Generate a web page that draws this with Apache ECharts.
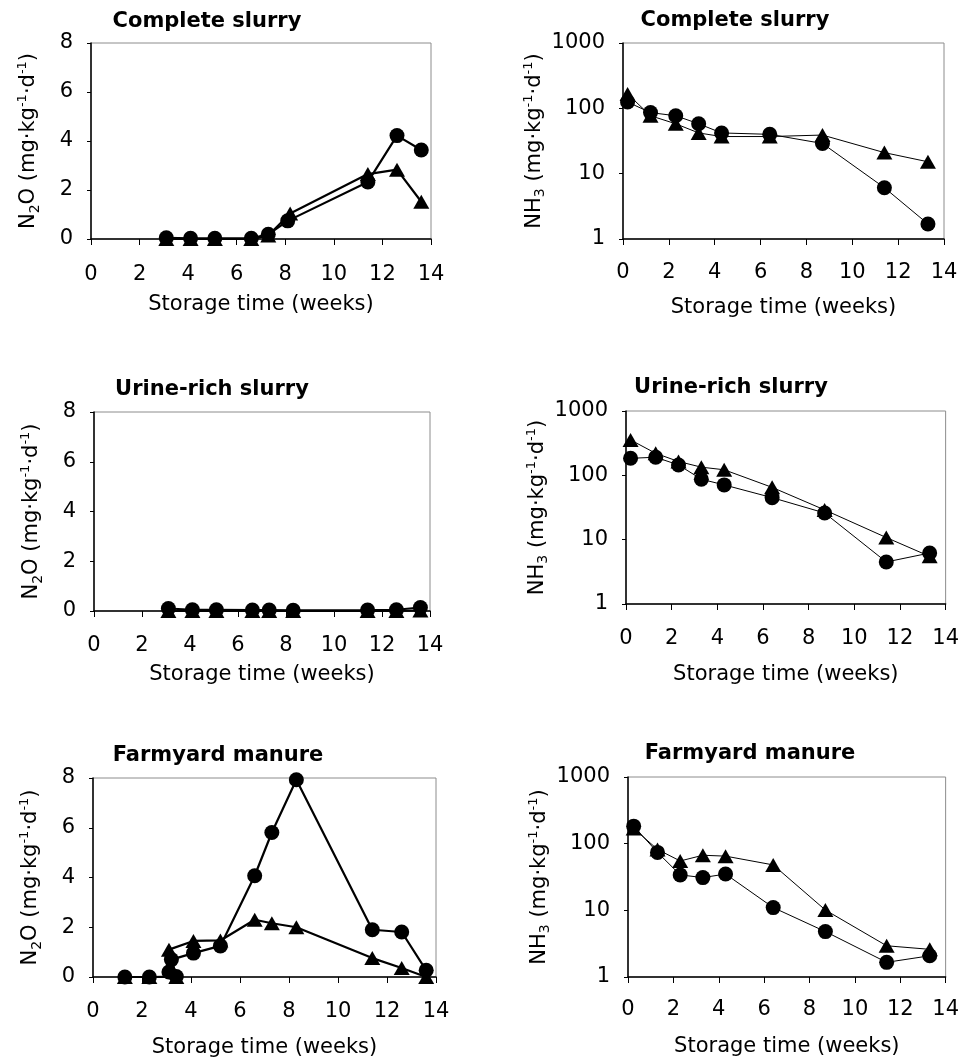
<!DOCTYPE html>
<html><head><meta charset="utf-8">
<script src="https://cdn.jsdelivr.net/npm/echarts@6/dist/echarts.min.js"></script>
<style>html,body{margin:0;padding:0;background:#fff}#c{width:962px;height:1061px}</style>
</head><body><div id="c"></div>
<script>
// ---------- DATA ----------
const panelTitles = ['Complete slurry', 'Complete slurry', 'Urine-rich slurry', 'Urine-rich slurry', 'Farmyard manure', 'Farmyard manure'];
const xAxisTitle = 'Storage time (weeks)';
const n2oAxisName = 'N{sub|2}O (mg·kg{sup|-1}·d{sup|-1})';
const nh3AxisName = 'NH{sub|3} (mg·kg{sup|-1}·d{sup|-1})';

// Complete slurry – N2O
const csN2OCircleWeeks = [3.1, 4.1, 5.1, 6.6, 7.3, 8.1, 11.4, 12.6, 13.6];
const csN2OCircle      = [0.05, 0.03, 0.03, 0.03, 0.19, 0.74, 2.33, 4.22, 3.63];
const csN2OTriWeeks    = [3.1, 4.1, 5.1, 6.6, 7.3, 8.2, 11.4, 12.6, 13.6];
const csN2OTri         = [0, 0, 0, 0, 0.14, 1.04, 2.65, 2.83, 1.52];

// Complete slurry – NH3
const csNH3Weeks  = [0.2, 1.2, 2.3, 3.3, 4.3, 6.4, 8.7, 11.4, 13.3];
const csNH3Circle = [125, 86, 77, 58, 42, 40, 29, 6.1, 1.7];
const csNH3Tri    = [166, 77, 58, 42, 37, 37, 39, 21, 15.2];

// Urine-rich slurry – N2O
const urN2OWeeks  = [3.1, 4.1, 5.1, 6.6, 7.3, 8.3, 11.4, 12.6, 13.6];
const urN2OCircle = [0.1, 0.05, 0.05, 0.04, 0.04, 0.03, 0.04, 0.05, 0.14];
const urN2OTri    = [0, 0, 0, 0, 0, 0, 0, 0, 0.02];

// Urine-rich slurry – NH3
const urNH3Weeks  = [0.2, 1.3, 2.3, 3.3, 4.3, 6.4, 8.7, 11.4, 13.3];
const urNH3Circle = [184, 191, 145, 87, 71, 45, 26, 4.5, 6.2];
const urNH3Tri    = [355, 220, 164, 134, 122, 65, 29, 10.8, 5.5];

// Farmyard manure – N2O
const fmN2OCircleWeeks = [1.3, 2.3, 3.4, 3.1, 3.2, 4.1, 5.2, 6.6, 7.3, 8.3, 11.4, 12.6, 13.6];
const fmN2OCircle      = [0, 0, 0.02, 0.2, 0.7, 0.96, 1.25, 4.07, 5.81, 7.93, 1.9, 1.81, 0.27];
const fmN2OTriWeeks    = [1.3, 2.3, 3.4, 3.1, 4.1, 5.2, 6.6, 7.3, 8.3, 11.4, 12.6, 13.6];
const fmN2OTri         = [0, 0, 0, 1.1, 1.45, 1.47, 2.3, 2.16, 2.0, 0.76, 0.36, 0];

// Farmyard manure – NH3
const fmNH3Weeks  = [0.25, 1.3, 2.3, 3.3, 4.3, 6.4, 8.7, 11.4, 13.3];
const fmNH3Circle = [183, 74, 34, 31, 35, 11, 4.8, 1.66, 2.08];
const fmNH3Tri    = [169, 82, 55, 67, 65, 48, 10.1, 2.94, 2.6];

// ---------- LAYOUT ----------
const FONT = 'DejaVu Sans';
const layouts = [
  {left: 91,  top: 43,  width: 340, height: 196, tx: 207, ty: 11,  xl: 25, xn: 55, log: false},
  {left: 623, top: 43,  width: 321, height: 196, tx: 735, ty: 10,  xl: 23, xn: 58, log: true},
  {left: 94,  top: 412, width: 336, height: 199, tx: 212, ty: 379, xl: 24, xn: 53, log: false},
  {left: 626, top: 411, width: 320, height: 193, tx: 731, ty: 377, xl: 24, xn: 60, log: true},
  {left: 93,  top: 778, width: 343, height: 199, tx: 218, ty: 745, xl: 24, xn: 60, log: false},
  {left: 628, top: 777, width: 319, height: 200, tx: 750, ty: 743, xl: 22, xn: 59, log: true}
];

const seriesSets = [
  [[csN2OTriWeeks, csN2OTri], [csN2OCircleWeeks, csN2OCircle]],
  [[csNH3Weeks, csNH3Tri], [csNH3Weeks, csNH3Circle]],
  [[urN2OWeeks, urN2OTri], [urN2OWeeks, urN2OCircle]],
  [[urNH3Weeks, urNH3Tri], [urNH3Weeks, urNH3Circle]],
  [[fmN2OTriWeeks, fmN2OTri], [fmN2OCircleWeeks, fmN2OCircle]],
  [[fmNH3Weeks, fmNH3Tri], [fmNH3Weeks, fmNH3Circle]]
];

const titles = [], grids = [], xAxes = [], yAxes = [], series = [];
layouts.forEach((L, i) => {
  titles.push({
    text: panelTitles[i], left: L.tx, top: L.ty, textAlign: 'center', padding: 0,
    textStyle: {fontFamily: FONT, fontSize: 21, fontWeight: 'bold', color: '#000', lineHeight: 21}
  });
  grids.push({
    left: L.left, top: L.top, width: L.width, height: L.height, containLabel: false,
    show: true, borderColor: '#8c8c8c', borderWidth: 1, backgroundColor: 'transparent'
  });
  xAxes.push({
    gridIndex: i, type: 'value', min: 0, max: 14, interval: 2,
    name: xAxisTitle, nameLocation: 'middle', nameGap: L.xn,
    nameTextStyle: {fontFamily: FONT, fontSize: 21, color: '#000'},
    axisLine: {show: true, onZero: false, lineStyle: {color: '#000', width: 1.5}},
    axisTick: {show: true, length: 6, lineStyle: {color: '#000', width: 1}},
    axisLabel: {fontFamily: FONT, fontSize: 21, color: '#000', margin: L.xl},
    splitLine: {show: false}
  });
  const y = {
    gridIndex: i,
    name: L.log ? nh3AxisName : n2oAxisName,
    nameLocation: 'middle', nameRotate: 90, nameGap: L.log ? 70 : 49,
    nameTextStyle: {
      fontFamily: FONT, fontSize: 21, color: '#000', lineHeight: 26,
      rich: {
        sub: {fontFamily: FONT, fontSize: 14, lineHeight: 14, verticalAlign: 'bottom', color: '#000'},
        sup: {fontFamily: FONT, fontSize: 13, lineHeight: 13, verticalAlign: 'top', color: '#000'}
      }
    },
    axisLine: {show: true, onZero: false, lineStyle: {color: '#000', width: 1.5}},
    axisTick: {show: true, length: 4, lineStyle: {color: '#000', width: 1}},
    axisLabel: {fontFamily: FONT, fontSize: 21, color: '#000', margin: 18,
                formatter: v => String(Math.round(v))},
    splitLine: {show: false}, minorTick: {show: false}
  };
  if (L.log) { y.type = 'log'; y.logBase = 10; y.min = 1; y.max = 1000; }
  else { y.type = 'value'; y.min = 0; y.max = 8; y.interval = 2; }
  yAxes.push(y);

  const lw = L.log ? 1 : 2.2;
  seriesSets[i].forEach((pair, k) => {
    const shape = k === 0 ? 'triangle' : 'circle';
    series.push({
      type: 'line', xAxisIndex: i, yAxisIndex: i,
      data: pair[0].map((w, j) => [w, pair[1][j]]),
      symbol: shape, symbolSize: shape === 'circle' ? 15 : [16, 14],
      showSymbol: true, clip: false, silent: true,
      itemStyle: {color: '#000', borderWidth: 0},
      lineStyle: {color: '#000', width: lw},
      emphasis: {disabled: true}, animation: false
    });
  });
});

const chart = echarts.init(document.getElementById('c'), null, {renderer: 'canvas'});
chart.setOption({
  animation: false, backgroundColor: '#fff',
  title: titles, grid: grids, xAxis: xAxes, yAxis: yAxes, series: series,
  tooltip: {show: false}, legend: {show: false}
});
</script></body></html>
